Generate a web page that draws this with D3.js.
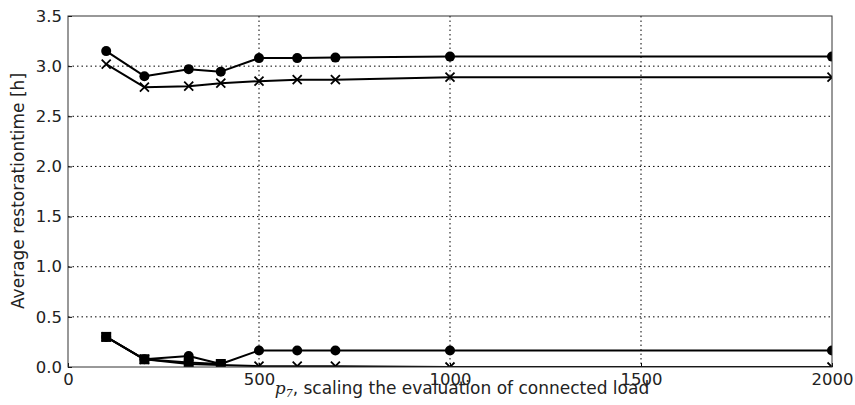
<!DOCTYPE html>
<html><head><meta charset="utf-8">
<script src="https://cdn.jsdelivr.net/npm/d3@7"></script>
<style>body{margin:0;background:#fff}svg text{font-family:"DejaVu Sans",sans-serif}</style>
</head><body><svg id="c" width="855" height="405"></svg>
<script>
const xValues = [100, 200, 316, 400, 500, 600, 700, 1000, 2000];
const upperCircle = [3.15, 2.90, 2.97, 2.945, 3.08, 3.08, 3.085, 3.095, 3.095];
const upperCross = [3.02, 2.79, 2.80, 2.83, 2.85, 2.865, 2.865, 2.89, 2.89];
const lowerCircle = [0.30, 0.077, 0.11, 0.03, 0.165, 0.165, 0.165, 0.165, 0.165];
const lowerSquareX = [100, 200, 316, 400];
const lowerSquare = [0.30, 0.077, 0.045, 0.03];
const lowerCross = [0.30, 0.077, 0.03, 0.02, 0.008, 0.008, 0.008, 0.0, 0.0];
const xTicks = [0, 500, 1000, 1500, 2000];
const yTicks = [0.0, 0.5, 1.0, 1.5, 2.0, 2.5, 3.0, 3.5];

const svg = d3.select("#c");
const L = 68, R = 832, T = 16, B = 367;
const FS = 16.5;
const x = d3.scaleLinear().domain([0, 2000]).range([L, R]);
const y = d3.scaleLinear().domain([0, 3.5]).range([B, T]);

svg.append("defs").append("clipPath").attr("id", "clip")
  .append("rect").attr("x", L).attr("y", T).attr("width", R - L).attr("height", B - T);

// grid
const grid = svg.append("g");
grid.selectAll(".gx").data(xTicks.slice(1, -1)).join("line")
  .attr("x1", d => x(d)).attr("x2", d => x(d)).attr("y1", T).attr("y2", B)
  .attr("stroke", "#000").attr("stroke-width", 1).attr("stroke-dasharray", "1.5,3");
grid.selectAll(".gy").data(yTicks.slice(1, -1)).join("line")
  .attr("y1", d => y(d)).attr("y2", d => y(d)).attr("x1", L).attr("x2", R)
  .attr("stroke", "#000").attr("stroke-width", 1).attr("stroke-dasharray", "1.5,3");

// axes
const xAxis = svg.append("g").attr("transform", `translate(0,${B})`)
  .call(d3.axisBottom(x).tickValues(xTicks).tickFormat(d3.format("d")).tickSizeInner(-4).tickSizeOuter(0));
const yAxis = svg.append("g").attr("transform", `translate(${L},0)`)
  .call(d3.axisLeft(y).tickValues(yTicks).tickFormat(d3.format(".1f")).tickSizeInner(-4).tickSizeOuter(0));
[xAxis, yAxis].forEach(a => {
  a.select(".domain").remove();
  a.selectAll("text").attr("font-size", FS).attr("fill", "#222").attr("font-family", "DejaVu Sans");
  a.selectAll("line").attr("stroke", "#000");
});
xAxis.selectAll("text").attr("y", 18).attr("dy", null);
yAxis.selectAll("text").attr("x", -6);

const plot = svg.append("g").attr("clip-path", "url(#clip)");
function drawLine(xs, ys) {
  const line = d3.line().x((d, i) => x(xs[i])).y(d => y(d));
  plot.append("path").datum(ys).attr("d", line).attr("fill", "none")
    .attr("stroke", "#000").attr("stroke-width", 2).attr("stroke-linejoin", "round");
}
function circles(xs, ys) {
  plot.append("g").selectAll("circle").data(ys).join("circle")
    .attr("cx", (d, i) => x(xs[i])).attr("cy", d => y(d)).attr("r", 5).attr("fill", "#000");
}
function squares(xs, ys) {
  plot.append("g").selectAll("rect").data(ys).join("rect")
    .attr("x", (d, i) => x(xs[i]) - 5).attr("y", d => y(d) - 5).attr("width", 10).attr("height", 10).attr("fill", "#000");
}
function crosses(xs, ys) {
  const s = 4.5;
  plot.append("g").selectAll("path").data(ys).join("path")
    .attr("d", (d, i) => {
      const cx = x(xs[i]), cy = y(d);
      return `M${cx - s},${cy - s}L${cx + s},${cy + s}M${cx - s},${cy + s}L${cx + s},${cy - s}`;
    }).attr("stroke", "#000").attr("stroke-width", 1.8).attr("fill", "none");
}
drawLine(xValues, lowerCross); crosses(xValues, lowerCross);
drawLine(lowerSquareX, lowerSquare); squares(lowerSquareX, lowerSquare);
drawLine(xValues, lowerCircle); circles(xValues, lowerCircle);
drawLine(xValues, upperCross); crosses(xValues, upperCross);
drawLine(xValues, upperCircle); circles(xValues, upperCircle);

// frame
svg.append("rect").attr("x", L).attr("y", T).attr("width", R - L).attr("height", B - T)
  .attr("fill", "none").attr("stroke", "#333").attr("stroke-width", 1);

// labels
const xl = svg.append("text").attr("x", 462).attr("y", 394).attr("text-anchor", "middle")
  .attr("font-size", 17).attr("fill", "#222");
xl.append("tspan").attr("font-family", "DejaVu Serif").attr("font-style", "italic").text("p");
xl.append("tspan").attr("font-family", "DejaVu Serif").attr("font-style", "italic").attr("font-size", 11).attr("dy", 3).text("7");
xl.append("tspan").attr("dy", -3).text(", scaling the evaluation of connected load");

svg.append("text").attr("transform", "translate(24,191) rotate(-90)").attr("text-anchor", "middle")
  .attr("font-size", 17).attr("fill", "#222").text("Average restorationtime [h]");
</script></body></html>
